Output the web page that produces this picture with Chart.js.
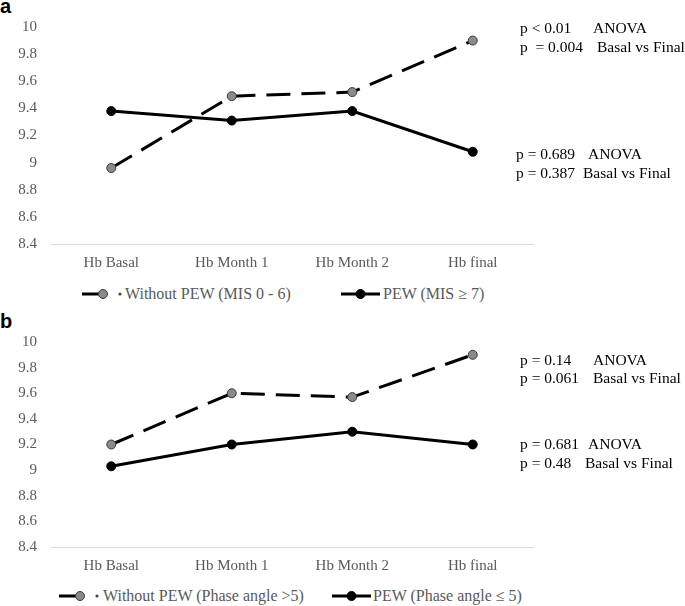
<!DOCTYPE html>
<html>
<head>
<meta charset="utf-8">
<script src="https://cdn.jsdelivr.net/npm/chart.js@4.4.0/dist/chart.umd.min.js"></script>
<style>
    body { margin: 0; background: #fff; }
    #page { position: relative; width: 685px; height: 606px; overflow: hidden; font-family: "Liberation Serif", "Times New Roman", serif; }
    canvas { position: absolute; left: 0; }
    .tag { position: absolute; left: 0; font: bold 20px "Liberation Sans", Arial, sans-serif; line-height: 20px; color: #000; }
    .note { position: absolute; font-size: 15.5px; line-height: 18px; color: #000; white-space: pre; }
    .leg { position: absolute; display: flex; align-items: center; font-size: 16px; line-height: 18px; color: #595959; white-space: pre; }
    .leg canvas { position: static; }
</style>
</head>
<body>
<div id="page">
    <div class="tag" style="top:-4px">a</div>
    <canvas id="chartA" width="685" height="280" style="top:0px"></canvas>
    <div class="tag" style="top:311px">b</div>
    <canvas id="chartB" width="685" height="280" style="top:305px"></canvas>
</div>

<script>
    const categories = ['Hb Basal', 'Hb Month 1', 'Hb Month 2', 'Hb final']
    const yTicks = [8.4, 8.6, 8.8, 9, 9.2, 9.4, 9.6, 9.8, 10]

    // panel a : MIS groups
    const misWithoutPEW = [8.96, 9.49, 9.52, 9.90]
    const misPEW = [9.38, 9.31, 9.38, 9.08]
    const misNames = ['Without PEW (MIS 0 - 6)', 'PEW (MIS \u2265 7)']
    const misNotes = [['p < 0.01', 'ANOVA'], ['p  = 0.004', 'Basal vs Final'], ['p = 0.689', 'ANOVA'], ['p = 0.387', 'Basal vs Final']]

    // panel b : phase angle groups
    const phaseWithoutPEW = [9.20, 9.60, 9.57, 9.90]
    const phasePEW = [9.03, 9.20, 9.30, 9.20]
    const phaseNames = ['Without PEW (Phase angle >5)', 'PEW (Phase angle \u2264 5)']
    const phaseNotes = [['p = 0.14', 'ANOVA'], ['p = 0.061', 'Basal vs Final'], ['p = 0.681', 'ANOVA'], ['p = 0.48', 'Basal vs Final']]

    const serif = '"Liberation Serif", "Times New Roman", serif'
    const page = document.getElementById('page')

    function makeChart(canvasId, padTop, xHeight, withoutVals, pewVals, names) {
        return new Chart(document.getElementById(canvasId), {
            type: 'line',
            data: {
                labels: categories,
                datasets: [{
                    label: names[0],
                    data: withoutVals,
                    borderColor: '#000',
                    borderWidth: 3,
                    borderDash: [24, 11],
                    pointRadius: 4.5,
                    pointBackgroundColor: '#8a8a8a',
                    pointBorderColor: '#3a3a3a',
                    pointBorderWidth: 1
                }, {
                    label: names[1],
                    data: pewVals,
                    borderColor: '#000',
                    borderWidth: 3,
                    pointRadius: 4.5,
                    pointBackgroundColor: '#000',
                    pointBorderColor: '#000',
                    pointBorderWidth: 1
                }]
            },
            options: {
                responsive: false,
                animation: false,
                layout: { padding: { top: padTop, right: 152, bottom: 0, left: 0 } },
                plugins: { legend: { display: false }, tooltip: { enabled: false } },
                scales: {
                    x: {
                        offset: true,
                        grid: { display: false, drawTicks: false },
                        border: { display: true, color: '#d9d9d9', width: 1 },
                        ticks: { color: '#595959', font: { family: serif, size: 15 }, padding: 10, maxRotation: 0 },
                        afterFit: s => { s.height = xHeight }
                    },
                    y: {
                        min: 8.4,
                        max: 10,
                        afterBuildTicks: s => { s.ticks = yTicks.map(v => ({ value: v })) },
                        grid: { display: false, drawTicks: false },
                        border: { display: false },
                        ticks: { color: '#595959', font: { family: serif, size: 15 }, padding: 14, callback: v => String(v) },
                        afterFit: s => { s.width = 51 }
                    }
                }
            }
        })
    }

    function legendIcon(ds, w) {
        const c = document.createElement('canvas')
        c.width = w
        c.height = 18
        const ctx = c.getContext('2d')
        ctx.strokeStyle = ds.borderColor
        ctx.lineWidth = 3
        ctx.beginPath()
        if (ds.borderDash) {
            ctx.moveTo(0, 9); ctx.lineTo(19, 9); ctx.stroke()
            ctx.fillStyle = '#444'
            ctx.beginPath(); ctx.arc(38, 9, 1.6, 0, Math.PI * 2); ctx.fill()
            var cx = 21
        } else {
            ctx.moveTo(0, 9); ctx.lineTo(39, 9); ctx.stroke()
            var cx = 19.5
        }
        ctx.beginPath()
        ctx.arc(cx, 9, ds.pointRadius, 0, Math.PI * 2)
        ctx.fillStyle = ds.pointBackgroundColor
        ctx.fill()
        ctx.lineWidth = ds.pointBorderWidth
        ctx.strokeStyle = ds.pointBorderColor
        ctx.stroke()
        return c
    }

    function addLegend(chart, top, lefts) {
        chart.data.datasets.forEach((ds, i) => {
            const item = document.createElement('div')
            item.className = 'leg'
            item.style.top = top + 'px'
            item.style.left = lefts[i][0] + 'px'
            item.appendChild(legendIcon(ds, lefts[i][1] - lefts[i][0]))
            item.appendChild(document.createTextNode(ds.label))
            page.appendChild(item)
        })
    }

    function addNotes(notes, rows) {
        notes.forEach((n, i) => {
            const r = rows[i]
            const a = document.createElement('div')
            a.className = 'note'
            a.style.left = r[0] + 'px'
            a.style.top = r[2] + 'px'
            a.textContent = n[0]
            page.appendChild(a)
            const b = document.createElement('div')
            b.className = 'note'
            b.style.left = r[1] + 'px'
            b.style.top = r[2] + 'px'
            b.textContent = n[1]
            page.appendChild(b)
        })
    }

    const chartA = makeChart('chartA', 27, 36, misWithoutPEW, misPEW, misNames)
    const chartB = makeChart('chartB', 37, 38, phaseWithoutPEW, phasePEW, phaseNames)

    addLegend(chartA, 285, [[82, 125], [341, 383]])
    addLegend(chartB, 587, [[59, 103], [332, 373]])

    addNotes(misNotes, [[520, 593, 19], [520, 597, 37.5], [516, 588, 145], [516, 583, 164]])
    addNotes(phaseNotes, [[520, 593, 351], [520, 593, 369], [520, 588, 435], [520, 585, 454]])
</script>
</body>
</html>
